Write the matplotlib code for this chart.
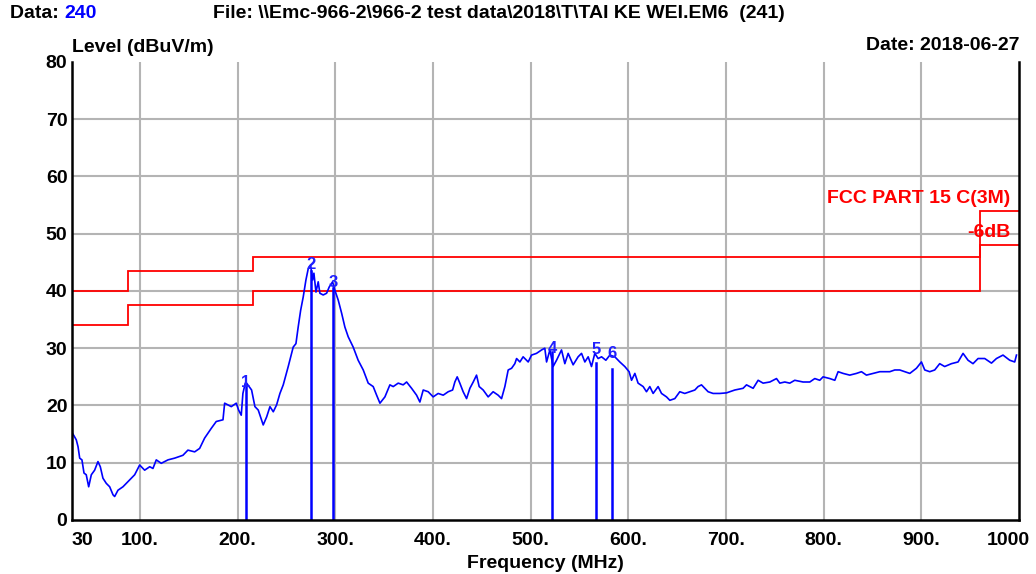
import matplotlib
matplotlib.use("Agg")
import matplotlib.pyplot as plt
import matplotlib.transforms as mtransforms

# measured trace (MHz, dBuV/m)
freq = [30.4, 30.8, 34.8, 36.6, 38.3, 40.6, 42.7, 45.0, 47.5, 50.2, 53.6, 57.0, 59.4,
        62.1, 65.5, 69.0, 72.4, 74.1, 77.5, 82.6, 87.7, 94.6, 99.7, 104.8, 110.0,
        113.3, 116.7, 121.8, 128.7, 135.5, 144.0, 149.1, 156.0, 161.1, 166.2, 173.0,
        178.1, 185.0, 186.7, 193.5, 198.6, 201.0, 203.7, 205.4, 207.8, 209.2, 214.3,
        217.7, 221.1, 226.2, 229.7, 233.1, 236.5, 239.9, 243.3, 246.7, 251.8, 256.9,
        259.7, 262.0, 264.5, 267.2, 269.9, 272.3, 274.7, 276.8, 278.1, 280.2, 282.5,
        284.2, 287.6, 291.1, 293.8, 297.2, 299.6, 303.0, 306.5, 309.8, 313.2, 318.3,
        323.4, 328.6, 333.7, 338.8, 342.3, 345.7, 350.8, 355.9, 359.3, 364.4, 369.5,
        373.0, 378.1, 383.2, 386.6, 390.0, 395.1, 400.2, 405.3, 410.5, 415.6, 420.1,
        422.4, 424.8, 427.5, 430.9, 434.4, 437.8, 441.2, 444.6, 447.3, 451.4, 456.5,
        461.6, 466.7, 470.2, 473.6, 477.0, 480.5, 483.8, 485.6, 489.0, 492.3, 497.5,
        500.9, 506.0, 511.2, 514.5, 516.3, 519.7, 523.0, 526.5, 531.6, 535.0, 538.4,
        543.5, 548.6, 552.1, 555.5, 558.9, 562.3, 565.7, 569.1, 572.6, 577.0, 581.1,
        586.2, 591.3, 596.4, 600.8, 603.3, 606.7, 610.0, 615.2, 618.6, 622.0, 625.4,
        630.5, 634.0, 639.1, 642.5, 647.6, 652.7, 657.8, 663.0, 668.1, 671.4, 674.9,
        678.3, 681.7, 686.8, 693.7, 700.5, 709.0, 717.5, 721.0, 727.8, 732.9, 738.0,
        744.9, 751.7, 755.1, 760.2, 765.3, 770.4, 778.9, 785.8, 790.9, 796.0, 799.4,
        806.3, 811.4, 814.8, 819.9, 826.7, 833.6, 838.7, 843.8, 850.6, 857.5, 867.7,
        872.8, 877.9, 883.0, 888.2, 895.0, 900.1, 903.5, 908.6, 913.7, 918.8, 923.9,
        930.8, 937.6, 942.7, 947.8, 952.9, 958.1, 964.9, 971.8, 976.9, 983.6, 990.5,
        995.6, 997.4]
level = [17.2, 15.2, 14.0, 12.8, 10.8, 10.5, 8.2, 7.9, 5.8, 7.9, 8.7, 10.2, 9.3,
         7.3, 6.4, 5.8, 4.4, 4.1, 5.2, 5.8, 6.7, 7.9, 9.6, 8.7, 9.3,
         9.0, 10.5, 9.9, 10.5, 10.8, 11.3, 12.2, 11.9, 12.5, 14.3, 16.0,
         17.2, 17.5, 20.4, 19.8, 20.4, 19.2, 18.3, 22.1, 23.9, 23.9, 22.7,
         19.8, 19.2, 16.6, 18.0, 19.8, 18.9, 20.1, 22.1, 23.6, 26.8, 30.2,
         30.8, 33.7, 36.6, 39.0, 41.9, 43.9, 44.5, 41.9, 43.1, 39.8, 41.6,
         39.6, 39.3, 39.6, 40.7, 41.6, 40.1, 38.4, 36.1, 33.7, 32.0, 30.2,
         27.9, 26.2, 23.9, 23.3, 21.8, 20.4, 21.5, 23.6, 23.3, 23.9, 23.6,
         24.1, 23.0, 21.8, 20.6, 22.7, 22.4, 21.5, 22.1, 21.8, 22.4, 22.7,
         24.1, 25.0, 23.9, 22.4, 21.2, 23.0, 24.1, 25.3, 23.3, 22.7, 21.5,
         22.4, 21.8, 21.2, 23.3, 26.2, 26.5, 27.3, 28.2, 27.6, 28.5, 27.6,
         28.8, 29.1, 29.7, 30.0, 27.6, 29.7, 26.8, 27.9, 29.7, 27.3, 29.1,
         27.1, 28.5, 29.1, 27.6, 28.5, 26.8, 29.1, 28.2, 28.5, 27.9, 28.8,
         28.5, 27.6, 26.8, 25.9, 24.4, 25.6, 23.9, 23.3, 22.4, 23.3, 22.1,
         23.3, 22.1, 21.5, 20.9, 21.2, 22.4, 22.1, 22.4, 22.7, 23.3, 23.6,
         23.0, 22.4, 22.1, 22.1, 22.2, 22.7, 23.0, 23.6, 23.0, 24.4, 23.9,
         24.1, 24.7, 23.9, 24.1, 23.9, 24.4, 24.1, 24.1, 24.7, 24.4, 25.0,
         24.7, 24.4, 25.9, 25.6, 25.3, 25.6, 25.9, 25.3, 25.6, 25.9, 25.9,
         26.2, 26.2, 25.9, 25.6, 26.5, 27.6, 26.2, 25.9, 26.2, 27.3, 26.8,
         27.3, 27.6, 29.1, 27.9, 27.3, 28.2, 28.2, 27.4, 28.2, 28.8, 27.9,
         27.6, 28.8]

# FCC Part 15 C (3m) limit and -6dB line
limit_edges = [30, 88, 216, 960, 1000]
limit_level = [40, 43.5, 46, 54]
margin_level = [34, 37.5, 40, 48]

# markers
mk_id = ["1", "2", "3", "4", "5", "6"]
mk_freq = [208.6, 275.2, 297.8, 521.8, 566.8, 583.8]
mk_level = [24.0, 44.6, 41.4, 30.0, 29.7, 29.0]
mk_line_top = [23.5, 43.5, 40.5, 29.3, 27.4, 26.3]

xticks = [30, 100, 200, 300, 400, 500, 600, 700, 800, 900, 1000]
xtick_labels = ["30", "100.", "200.", "300.", "400.", "500.", "600.", "700.", "800.", "900.", "1000"]
yticks = [0, 10, 20, 30, 40, 50, 60, 70, 80]

plt.rcParams['font.family'] = ['Liberation Sans', 'DejaVu Sans']
plt.rcParams['font.weight'] = 'bold'
FS = 14

fig = plt.figure(figsize=(10.36, 5.74), dpi=100)
ax = fig.add_axes([0.0691, 0.0941, 0.9145, 0.798])

ax.set_xlim(30, 1000)
ax.set_ylim(0, 80)

# grid
for x in xticks[1:-1]:
    ax.axvline(x, color='#b4b4b4', lw=1.5, zorder=0)
for y in yticks[1:-1]:
    ax.axhline(y, color='#b4b4b4', lw=1.5, zorder=0)

# limit lines
ax.stairs(limit_level, limit_edges, color='red', lw=1.3, baseline=None)
ax.stairs(margin_level, limit_edges, color='red', lw=1.3, baseline=None)
ax.text(991, 56.2, "FCC PART 15 C(3M)", color='red', fontsize=FS, ha='right', va='center')
ax.text(991, 50.2, "-6dB", color='red', fontsize=FS, ha='right', va='center')

# trace
ax.plot(freq, level, color='#0000ff', lw=1.2)

# markers
for m, f, lv, top in zip(mk_id, mk_freq, mk_level, mk_line_top):
    ax.plot([f, f], [0, top], color='#0000ff', lw=1.8)
    ax.text(f, lv, m, color='#2020ff', fontsize=12, ha='center', va='center')

ax.set_xticks(xticks)
ax.set_xticklabels(xtick_labels, fontsize=FS)
ax.set_yticks(yticks)
ax.set_yticklabels([str(v) for v in yticks], fontsize=FS)
ax.tick_params(axis='x', length=0, pad=9)
ax.tick_params(axis='y', length=0, pad=3)
labels = ax.get_xticklabels()
labels[0].set_ha('left')
labels[-1].set_transform(labels[-1].get_transform() +
                         mtransforms.ScaledTranslation(-0.11, 0, fig.dpi_scale_trans))

for s in ['left', 'bottom', 'right']:
    ax.spines[s].set_linewidth(1.8)
ax.spines['top'].set_visible(False)

ax.set_xlabel("Frequency (MHz)", fontsize=FS, fontweight='bold', labelpad=4)

# header texts
fig.text(10 / 1036, 1 - 14 / 574, "Data: ", fontsize=FS, va='center', ha='left')
fig.text(64 / 1036, 1 - 14 / 574, "240", fontsize=FS, va='center', ha='left', color='#0000ff')
fig.text(213 / 1036, 1 - 14 / 574,
         "File: \\\\Emc-966-2\\966-2 test data\\2018\\T\\TAI KE WEI.EM6  (241)",
         fontsize=FS, va='center', ha='left')
fig.text(72 / 1036, 1 - 47 / 574, "Level (dBuV/m)", fontsize=FS, va='center', ha='left')
fig.text(1020 / 1036, 1 - 45 / 574, "Date: 2018-06-27", fontsize=FS, va='center', ha='right')

fig.savefig("out.png", dpi=100)
